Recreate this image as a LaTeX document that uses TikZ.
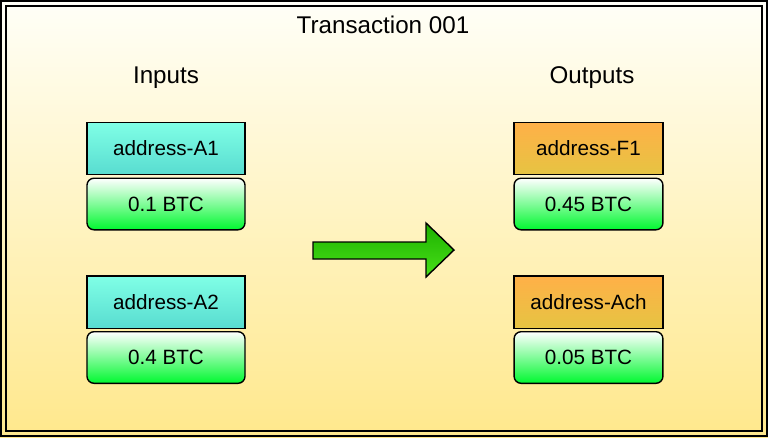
\documentclass[tikz,border=0pt]{standalone}
\usepackage{fontspec}
\setmainfont{Liberation Sans}
\definecolor{bgtop}{HTML}{FFFFF8}
\definecolor{bgbot}{HTML}{FFE88C}
\definecolor{intop}{HTML}{80FFE6}
\definecolor{inbot}{HTML}{58DCD0}
\definecolor{outtop}{HTML}{FFB048}
\definecolor{outbot}{HTML}{E6C442}
\definecolor{amtbot}{HTML}{00F830}
\definecolor{arrtop}{HTML}{1DB000}
\definecolor{arrbot}{HTML}{48E018}
\begin{document}
\begin{tikzpicture}[x=0.025cm,y=-0.025cm,
  addrin/.style={draw,line width=1pt,top color=intop,bottom color=inbot,minimum width=3.95cm,minimum height=1.31cm,font=\fontsize{14.7}{17}\selectfont},
  addrout/.style={addrin,top color=outtop,bottom color=outbot,minimum width=3.72cm},
  amount/.style={draw,line width=1pt,rounded corners=5pt,top color=white,bottom color=amtbot,minimum height=1.29cm,font=\fontsize{14.7}{17}\selectfont},
  heading/.style={font=\fontsize{17.2}{20}\selectfont}]
\useasboundingbox(0,0)rectangle(768,437);
\fill[top color=bgtop,bottom color=bgbot](0,0)rectangle(768,437);
\draw[line width=1.3pt](1,1)rectangle(767,436);
\draw[line width=1.3pt](6,6)rectangle(762,431);
\node[heading](title)at(383,25){Transaction 001};
\node[heading](inputs)at(166,78){Inputs};
\node[heading](outputs)at(592,78){Outputs};
\node[addrin](a1)at(166,148.5){address-A1};
\node[amount,minimum width=3.95cm](v1)at(166,204){0.1 BTC};
\node[addrin](a2)at(166,302){address-A2};
\node[amount,minimum width=3.95cm](v2)at(166,357.5){0.4 BTC};
\node[addrout](f1)at(588.5,148.5){address-F1};
\node[amount,minimum width=3.72cm](v3)at(588.5,204){0.45 BTC};
\node[addrout](ach)at(588.5,302){address-Ach};
\node[amount,minimum width=3.72cm](v4)at(588.5,357.5){0.05 BTC};
\draw[line width=1pt,top color=arrtop,bottom color=arrbot](313,242)--(426,242)--(426,223)--(454,250)--(426,277)--(426,259)--(313,259)--cycle;
\end{tikzpicture}
\end{document}
